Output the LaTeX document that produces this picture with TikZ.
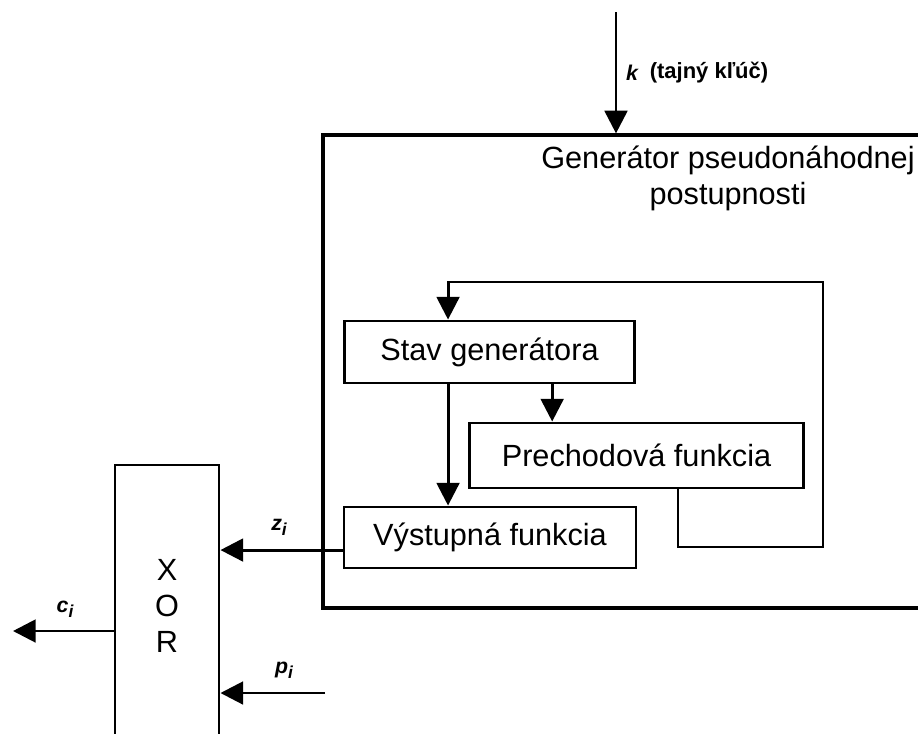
\documentclass[tikz,border=0pt]{standalone}
\usepackage{fontspec}
\setmainfont{Liberation Sans}
\usetikzlibrary{arrows.meta}
\newcommand{\mysub}[1]{\raisebox{-0.45ex}{\fontsize{13}{13}\selectfont #1}}
\begin{document}
\begin{tikzpicture}[x=0.75pt,y=-0.75pt,
  box/.style={draw,line width=2.2pt,inner sep=0pt,font=\fontsize{23}{27}\selectfont},
  frame/.style={draw,line width=2.4pt,inner sep=0pt},
  arr/.style={line width=2.2pt,-{Triangle[width=17pt,length=17pt]}},
  lbl/.style={font=\fontsize{16}{18}\selectfont\bfseries\itshape,inner sep=0pt},
  keytext/.style={font=\fontsize{16.5}{20}\selectfont\bfseries,inner sep=0pt},
  titletext/.style={font=\fontsize{23}{27}\selectfont,align=center,inner sep=0pt}]
\clip (0,0) rectangle (918,733);
\fill[white] (0,0) rectangle (918,733);
% large generator frame (open on the right beyond the picture)
\node[frame,minimum width=477.75pt,minimum height=354.75pt] (gen) at (641.5,371.5) {};
\node[titletext] (title) at (728,178) {Generátor pseudonáhodnej\\postupnosti};
% inner boxes
\node[box,minimum width=218pt,minimum height=46.5pt] (stav) at (489.5,352) {Stav generátora};
\node[box,minimum width=250pt,minimum height=48.75pt] (prech) at (636.5,455.5) {Prechodová funkcia};
\node[box,minimum width=219pt,minimum height=45.75pt] (vyst) at (490,537.5) {Výstupná funkcia};
% XOR box (open at the bottom beyond the picture)
\node[box,minimum width=78pt,minimum height=211.5pt,align=center] (xor) at (167,606) {X\\O\\R};
% key input
\coordinate (ktop) at (616,12);
\draw[arr] (ktop) -- (ktop |- gen.north);
\node[lbl] (klbl) at (632,73) {k};
\node[keytext] (ktext) at (709,73) {(tajný kľúč)};
% feedback loop
\coordinate (lpr) at (823,547);
\coordinate (lpt) at (823,282);
\draw[arr] ([xshift=31.1pt]prech.south) |- (lpr) -- (lpt) -| ([xshift=-31.1pt]stav.north);
% internal arrows
\draw[arr] ([xshift=-31.1pt]stav.south) -- ([xshift=-31.1pt]stav.south |- vyst.north);
\draw[arr] ([xshift=47pt]stav.south) -- ([xshift=47pt]stav.south |- prech.north);
% keystream z_i
\coordinate (zs) at ([yshift=-9.4pt]vyst.west);
\draw[arr] (zs) -- (xor.east |- zs);
\node[lbl] (zlbl) at (279,527) {z\mysub{i}};
% plaintext p_i
\coordinate (pin) at (325,693);
\draw[arr] (pin) -- (xor.east |- pin);
\node[lbl] (plbl) at (284,670) {p\mysub{i}};
% ciphertext c_i
\coordinate (cout) at (13,631);
\draw[arr] (xor.west |- cout) -- (cout);
\node[lbl] (clbl) at (65,609) {c\mysub{i}};
\end{tikzpicture}
\end{document}
